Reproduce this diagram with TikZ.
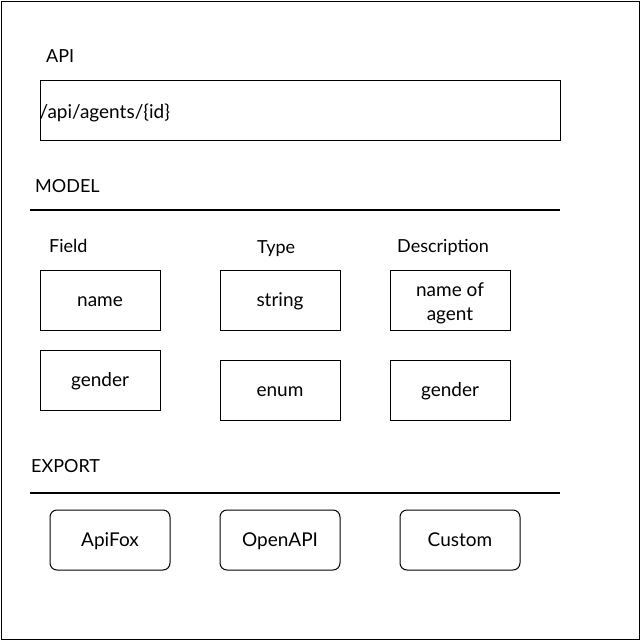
\documentclass[tikz,border=0pt]{standalone}
\usepackage{fontspec}
\setmainfont{Lato}
\begin{document}
\begin{tikzpicture}[x=1pt,y=-1pt,
  lbl/.style={anchor=base west,inner sep=0pt,font=\fontsize{18}{20}\selectfont},
  cell/.style={draw,line width=1pt,minimum width=120pt,minimum height=60pt,inner sep=0pt,align=center,
    text height=13pt,text depth=0pt,font=\fontsize{19}{24}\selectfont},
  rcell/.style={cell,rounded corners=7pt},
  rule/.style={line width=1.1pt}]
\useasboundingbox (0,0) rectangle (641,641);
\node[draw,line width=1.3pt,minimum width=638pt,minimum height=638pt,inner sep=0pt] (frame) at (320.5,320.5) {};
\node[lbl] (api) at (46,62.5) {API};
\node[draw,line width=1pt,minimum width=520pt,minimum height=60pt,inner sep=0pt] (url) at (300,110) {};
\node[lbl,font=\fontsize{19}{22}\selectfont] (urltext) at ([yshift=-8]url.west) {/api/agents/\{id\}};
\node[lbl] (model) at (35,192.5) {MODEL};
\coordinate (m1) at (30,210); \coordinate (m2) at (560,210);
\draw[rule] (m1) -- (m2);
\node[lbl] (field) at (49,252.5) {Field};
\node[lbl] (type) at (257,253.5) {Type};
\node[lbl] (desc) at (397,252.5) {Description};
\node[cell] (name) at (100,300) {name};
\node[cell] (string) at (280,300) {string};
\node[cell,text height=40pt] (nameof) at (450,300) {name of\\agent};
\node[cell] (gender) at (100,380) {gender};
\node[cell] (enum) at (280,390) {enum};
\node[cell] (gender2) at (450,390) {gender};
\node[lbl] (export) at (31,472.5) {EXPORT};
\coordinate (e1) at (30,493); \coordinate (e2) at (560,493);
\draw[rule] (e1) -- (e2);
\node[rcell] (apifox) at (110,540) {ApiFox};
\node[rcell] (openapi) at (280,540) {OpenAPI};
\node[rcell] (custom) at (460,540) {Custom};
\end{tikzpicture}
\end{document}
